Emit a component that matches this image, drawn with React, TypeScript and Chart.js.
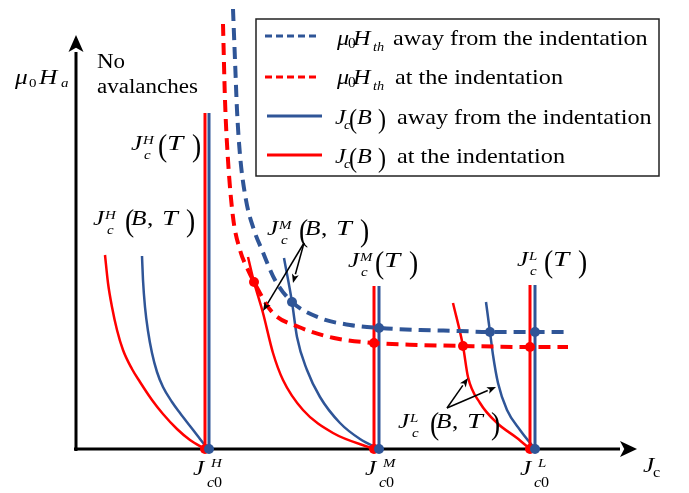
import React, { useEffect, useRef } from "react";
import { Chart, registerables } from "chart.js";

Chart.register(...registerables);

const BLUE = "#2F5597";
const RED = "#FF0000";
const SERIF = '"Liberation Serif", "Times New Roman", serif';

// Threshold field μ0Hth (x: Jc, y: μ0Ha), arbitrary units
const thBlueX = [157, 159, 161, 164, 170, 178, 186, 199, 216, 244, 274, 304, 344, 384, 414, 459, 489];
const thBlueY = [440, 389, 339, 294, 249, 219, 199, 169, 147, 131, 124, 121, 119, 118, 117, 117, 117];
const thRedX = [147, 149, 152, 157, 164, 172, 178, 196, 223, 258, 298, 344, 387, 455, 492];
const thRedY = [425, 349, 289, 232, 199, 179, 167, 137, 122, 111, 106, 104, 103, 102, 102];

// Jc(B,T) curves
const jcHRedX = [29, 32, 36, 41, 47, 56, 64, 76, 87, 101, 114, 129];
const jcHRedY = [194, 166, 142, 119, 99, 80, 67, 49, 35, 20, 9, 0];
const jcHBlueX = [66, 67, 69, 72, 76, 81, 87, 96, 104, 114, 124, 132];
const jcHBlueY = [193, 169, 142, 118, 96, 77, 62, 47, 36, 23, 10, 0];
const jcMRedX = [172, 178, 187, 197, 207, 227, 257, 298];
const jcMRedY = [192, 167, 136, 96, 69, 39, 16, 0];
const jcMBlueX = [208, 216, 221, 231, 244, 264, 284, 303];
const jcMBlueY = [191, 147, 112, 79, 52, 26, 10, 0];
const jcLRedX = [377, 387, 392, 404, 421, 441, 454];
const jcLRedY = [146, 103, 72, 46, 26, 11, 0];
const jcLBlueX = [410, 414, 417, 422, 431, 444, 459];
const jcLBlueY = [147, 117, 94, 66, 39, 19, 0];

// Jc(T) verticals
const jc0Red = [129, 298, 454];
const jc0Blue = [133, 303, 459];
const jcTTop = [336, 163, 164];

// Intersection markers
const dotBlueX = [216, 303, 414, 459, 133, 303, 459];
const dotBlueY = [147, 121, 117, 117, 0, 0, 0];
const dotRedX = [178, 298, 387, 454, 129, 298, 454];
const dotRedY = [167, 106, 103, 102, 0, 0, 0];

const pts = (xs: number[], ys: number[]) => xs.map((x, i) => ({ x, y: ys[i] }));

type Seg = { t: string; dx: number; dy?: number; size?: number; it?: boolean; sy?: number; wx?: number };

function drawSegs(ctx: CanvasRenderingContext2D, x: number, y: number, segs: Seg[], sx: number) {
  ctx.save();
  ctx.translate(x, y);
  ctx.scale(sx, 1);
  ctx.fillStyle = "#000";
  ctx.textBaseline = "alphabetic";
  ctx.textAlign = "left";
  for (const s of segs) {
    ctx.font = `${s.it ? "italic " : ""}${s.size ?? 22}px ${SERIF}`;
    ctx.save();
    ctx.translate(s.dx / sx, s.dy ?? 0);
    ctx.scale(s.wx ?? 1, s.sy ?? 1);
    ctx.fillText(s.t, 0, 0);
    ctx.restore();
  }
  ctx.restore();
}

const P = (t: string, dx: number, size = 24, dy = 6, sy = 1.3): Seg => ({ t, dx, dy, size, sy });

const labelT = (sup: string): Seg[] => [
  { t: "J", dx: 0, it: true },
  { t: sup, dx: 12, dy: -6, size: 13, it: true },
  { t: "c", dx: 13, dy: 9, size: 13, it: true },
  P("(", 27),
  { t: "T", dx: 36, it: true, wx: 1.15 },
  P(")", 61),
];
const labelBT = (sup: string): Seg[] => [
  { t: "J", dx: 0, it: true },
  { t: sup, dx: 12, dy: -6, size: 13, it: true },
  { t: "c", dx: 14, dy: 9, size: 13, it: true },
  P("(", 32),
  { t: "B", dx: 38, it: true },
  { t: ",", dx: 54 },
  { t: "T", dx: 69, it: true, wx: 1.12 },
  P(")", 93),
];
const labelC0 = (sup: string): Seg[] => [
  { t: "J", dx: 0, it: true },
  { t: sup, dx: 18, dy: -8, size: 13, it: true },
  { t: "c", dx: 14, dy: 12, size: 14, it: true },
  { t: "0", dx: 21, dy: 12, size: 14 },
];

// label anchors in data coordinates
const labels: { x: number; y: number; segs: Seg[]; sx?: number }[] = [
  { x: -61, y: 365, segs: [
    { t: "μ", dx: 0, it: true },
    { t: "0", dx: 14, dy: 3, size: 13 },
    { t: "H", dx: 24, it: true },
    { t: "a", dx: 46, dy: 3, size: 13, it: true },
  ] },
  { x: 21, y: 381, segs: [{ t: "No", dx: 0, size: 20 }] },
  { x: 21, y: 356, segs: [{ t: "avalanches", dx: 0, size: 20 }] },
  { x: 55, y: 299, segs: labelT("H") },
  { x: 17, y: 224, segs: labelBT("H") },
  { x: 191, y: 214, segs: labelBT("M") },
  { x: 272, y: 182, segs: labelT("M") },
  { x: 441, y: 183, segs: labelT("L") },
  { x: 322, y: 21, segs: labelBT("L") },
  { x: 117, y: -26, segs: labelC0("H") },
  { x: 289, y: -26, segs: labelC0("M") },
  { x: 444, y: -26, segs: labelC0("L") },
  { x: 567, y: -23, segs: [{ t: "J", dx: 0, it: true }, { t: "c", dx: 10, dy: 5, size: 14 }] },
];

// annotation arrows [fromX, fromY, toX, toY]
const arrows = [
  [228, 206, 217, 166],
  [228, 206, 187, 138],
  [371, 41, 392, 71],
  [371, 41, 420, 62],
];

function arrow(ctx: CanvasRenderingContext2D, x1: number, y1: number, x2: number, y2: number, len: number, hw: number, lw: number) {
  const a = Math.atan2(y2 - y1, x2 - x1);
  const bx = x2 - len * Math.cos(a);
  const by = y2 - len * Math.sin(a);
  ctx.lineWidth = lw;
  ctx.beginPath();
  ctx.moveTo(x1, y1);
  ctx.lineTo(bx, by);
  ctx.stroke();
  ctx.beginPath();
  ctx.moveTo(x2, y2);
  ctx.lineTo(bx + hw * Math.sin(a), by - hw * Math.cos(a));
  ctx.lineTo(x2 - len * 0.75 * Math.cos(a), y2 - len * 0.75 * Math.sin(a));
  ctx.lineTo(bx - hw * Math.sin(a), by + hw * Math.cos(a));
  ctx.closePath();
  ctx.fill();
}

const overlay = {
  id: "overlay",
  beforeDatasetsDraw(chart: any) {
    const ctx: CanvasRenderingContext2D = chart.ctx;
    const { left, right, top, bottom } = chart.chartArea;
    ctx.save();
    ctx.strokeStyle = "#000";
    ctx.fillStyle = "#000";
    ctx.lineCap = "butt";
    arrow(ctx, left, bottom + 2, left, top + 2, 17, 7.5, 3);
    arrow(ctx, left - 2, bottom, right, bottom, 17, 8, 3);
    ctx.restore();
  },
  afterDatasetsDraw(chart: any) {
    const ctx: CanvasRenderingContext2D = chart.ctx;
    const xs = chart.scales.x;
    const ys = chart.scales.y;
    ctx.save();
    ctx.strokeStyle = "#000";
    ctx.fillStyle = "#000";
    for (const [a, b, c, d] of arrows) {
      arrow(ctx, xs.getPixelForValue(a), ys.getPixelForValue(b), xs.getPixelForValue(c), ys.getPixelForValue(d), 9, 3.5, 1.5);
    }
    for (const l of labels) {
      drawSegs(ctx, xs.getPixelForValue(l.x), ys.getPixelForValue(l.y), l.segs, l.sx ?? 1.15);
    }
    // legend box
    const lx = 256, ly = 19, lw = 403, lh = 157;
    ctx.fillStyle = "#fff";
    ctx.fillRect(lx, ly, lw, lh);
    ctx.strokeStyle = "#222";
    ctx.lineWidth = 1.5;
    ctx.strokeRect(lx, ly, lw, lh);
    const rows = [
      { y: 36, color: BLUE, dash: [7, 4], x0: 265, x1: 320 },
      { y: 77, color: RED, dash: [7, 4], x0: 265, x1: 320 },
      { y: 116, color: BLUE, dash: [], x0: 267, x1: 322 },
      { y: 155, color: RED, dash: [], x0: 267, x1: 322 },
    ];
    for (const r of rows) {
      ctx.strokeStyle = r.color;
      ctx.lineWidth = 3;
      ctx.setLineDash(r.dash);
      ctx.beginPath();
      ctx.moveTo(r.x0, r.y);
      ctx.lineTo(r.x1, r.y);
      ctx.stroke();
    }
    ctx.setLineDash([]);
    const mu: Seg[] = [
      { t: "μ", dx: 0, it: true, size: 22 },
      { t: "0", dx: 11, dy: 3, size: 14 },
      { t: "H", dx: 16, it: true, size: 22 },
      { t: "th", dx: 36, dy: 6, size: 13, it: true },
    ];
    const jb: Seg[] = [
      { t: "J", dx: 0, it: true, size: 22 },
      { t: "c", dx: 9, dy: 5, size: 13, it: true },
      P("(", 14, 22, 4, 1.2),
      { t: "B", dx: 22, it: true, size: 22 },
      P(")", 43, 22, 4, 1.2),
    ];
    drawSegs(ctx, 337, 45, [...mu, { t: "away from the indentation", dx: 56, size: 22 }], 1.1);
    drawSegs(ctx, 337, 84, [...mu, { t: "at the indentation", dx: 58, size: 22 }], 1.1);
    drawSegs(ctx, 335, 124, [...jb, { t: "away from the indentation", dx: 62, size: 22 }], 1.1);
    drawSegs(ctx, 335, 163, [...jb, { t: "at the indentation", dx: 62, size: 22 }], 1.1);
    ctx.restore();
  },
};

export default function App() {
  const ref = useRef<HTMLCanvasElement>(null);
  useEffect(() => {
    const curve = (xs: number[], ys: number[], color: string, width: number, dash: number[] = []) => ({
      type: "line" as const,
      data: pts(xs, ys),
      borderColor: color,
      borderWidth: width,
      borderDash: dash,
      pointRadius: 0,
      cubicInterpolationMode: "monotone" as const,
      fill: false,
      clip: false as any,
    });
    const verts = (xs: number[], color: string) =>
      xs.map((x, i) => curve([x, x], [0, jcTTop[i]], color, 3));
    const dots = (xs: number[], ys: number[], color: string) => ({
      type: "scatter" as const,
      data: pts(xs, ys),
      backgroundColor: color,
      borderWidth: 0,
      pointRadius: 5,
      showLine: false,
      clip: false as any,
    });
    const chart = new Chart(ref.current!, {
      type: "line",
      data: {
        datasets: [
          dots(dotBlueX, dotBlueY, BLUE),
          dots(dotRedX, dotRedY, RED),
          curve(thBlueX, thBlueY, BLUE, 4, [12, 7]),
          curve(thRedX, thRedY, RED, 4, [12, 7]),
          ...verts(jc0Blue, BLUE),
          ...verts(jc0Red, RED),
          curve(jcHBlueX, jcHBlueY, BLUE, 2.5),
          curve(jcHRedX, jcHRedY, RED, 2.5),
          curve(jcMBlueX, jcMBlueY, BLUE, 2.5),
          curve(jcMRedX, jcMRedY, RED, 2.5),
          curve(jcLBlueX, jcLBlueY, BLUE, 2.5),
          curve(jcLRedX, jcLRedY, RED, 2.5),
        ] as any,
      },
      options: {
        responsive: false,
        animation: false,
        devicePixelRatio: 1,
        layout: { padding: { left: 76, right: 52, top: 33, bottom: 44 } },
        scales: {
          x: { type: "linear", min: 0, max: 561, display: false },
          y: { type: "linear", min: 0, max: 416, display: false },
        },
        plugins: { legend: { display: false }, tooltip: { enabled: false } },
        events: [],
      },
      plugins: [overlay],
    });
    return () => chart.destroy();
  }, []);
  return (
    <div style={{ position: "absolute", left: 0, top: 0, width: 689, height: 493, background: "#fff" }}>
      <canvas ref={ref} width={689} height={493} style={{ display: "block", width: 689, height: 493 }} />
    </div>
  );
}
